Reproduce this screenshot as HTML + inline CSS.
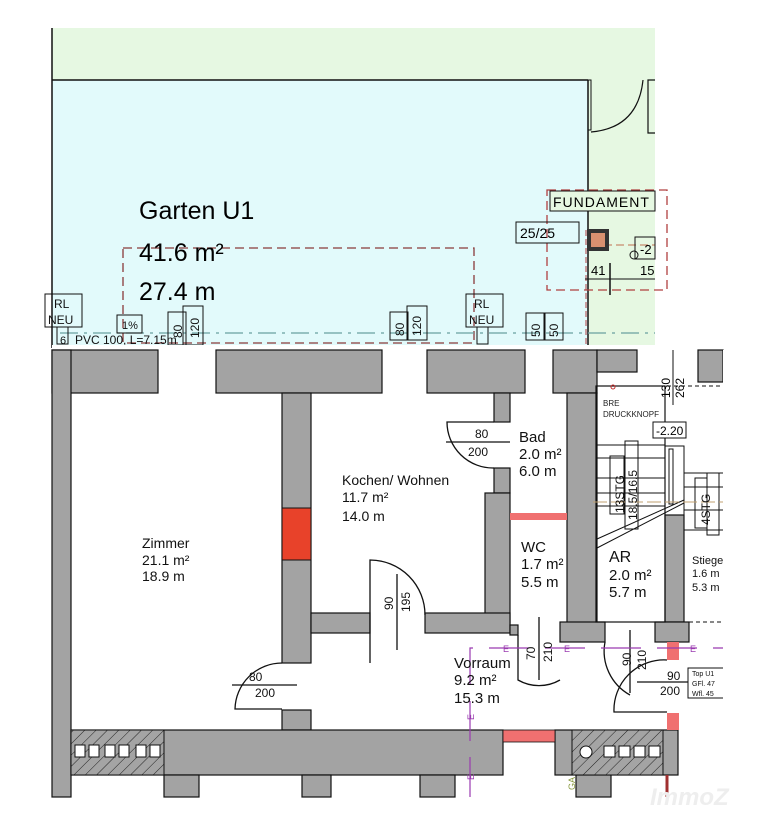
<!DOCTYPE html>
<html><head><meta charset="utf-8"><style>
html,body{margin:0;padding:0;background:#fff;}
svg{display:block;font-family:"Liberation Sans",Arial,sans-serif;}
</style></head><body>
<svg width="758" height="820" viewBox="0 0 758 820" xmlns="http://www.w3.org/2000/svg">
<defs>
<pattern id="hatch" width="8" height="8" patternUnits="userSpaceOnUse" patternTransform="rotate(45)">
<rect width="8" height="8" fill="#a4a4a4"/><line x1="0" y1="0" x2="0" y2="8" stroke="#222" stroke-width="1"/>
</pattern>
</defs>
<rect width="758" height="820" fill="#fff"/>
<!-- top garden area -->
<rect x="52" y="28" width="603" height="320" fill="#e6f8e2"/>
<rect x="52" y="80" width="536" height="268" fill="#e2fafb"/>
<line x1="52" y1="28" x2="52" y2="348" stroke="#111" stroke-width="1.5"/>
<line x1="52" y1="80" x2="588" y2="80" stroke="#111" stroke-width="1.5"/>
<line x1="588" y1="80" x2="588" y2="348" stroke="#111" stroke-width="1.5"/>
<rect x="588" y="80" width="3" height="50" fill="none" stroke="#111" stroke-width="1"/>
<path d="M591 132 Q638 128 643 80" fill="none" stroke="#111" stroke-width="1.2"/>
<path d="M655 80 L648 80 L648 133 L655 133" fill="none" stroke="#111" stroke-width="1.2"/>
<!-- dashed fundament rects -->
<rect x="123" y="248" width="351" height="95" fill="none" stroke="#8a3a3a" stroke-width="1.3" stroke-dasharray="9,5"/>
<rect x="547" y="190" width="120" height="100" fill="none" stroke="#b04040" stroke-width="1.3" stroke-dasharray="9,5"/>
<line x1="586" y1="230" x2="586" y2="345" stroke="#b04040" stroke-width="1" stroke-dasharray="6,3"/>
<line x1="592" y1="245" x2="655" y2="245" stroke="#c07050" stroke-width="1" stroke-dasharray="8,4"/>
<rect x="550" y="191" width="105" height="20" fill="#e6f8e2" stroke="#111" stroke-width="1"/>
<text x="553" y="207" font-size="14" letter-spacing="1">FUNDAMENT</text>
<rect x="516" y="222" width="63" height="21" fill="none" stroke="#111" stroke-width="1"/>
<text x="520" y="238" font-size="14">25/25</text>
<rect x="587" y="229" width="22" height="22" fill="#333"/><rect x="591" y="233" width="14" height="14" fill="#d99070"/>
<rect x="635" y="237" width="20" height="22" fill="none" stroke="#111"/><text x="640" y="254" font-size="13">-2</text>
<circle cx="634" cy="255" r="4" fill="none" stroke="#111"/>
<line x1="585" y1="279" x2="655" y2="279" stroke="#111"/>
<line x1="610" y1="263" x2="610" y2="295" stroke="#111" stroke-width="1.5"/>
<text x="591" y="275" font-size="13">41</text><text x="640" y="275" font-size="13">15</text>
<!-- garden labels -->
<text x="139" y="219" font-size="25">Garten U1</text>
<text x="139" y="261" font-size="25">41.6 m²</text>
<text x="139" y="300" font-size="25">27.4 m</text>
<!-- pipe line -->
<line x1="60" y1="333" x2="655" y2="333" stroke="#6aa0a0" stroke-width="1.2" stroke-dasharray="18,6,3,6"/>
<g font-size="12" fill="#111" stroke="#111" stroke-width="1">
<rect x="45" y="294" width="37" height="33" fill="none"/>
<rect x="57" y="327" width="11" height="17" fill="none"/>
<rect x="117" y="315" width="25" height="18" fill="none"/>
<rect x="168" y="312" width="18" height="33" fill="none"/>
<rect x="183" y="306" width="20" height="39" fill="none"/>
<rect x="390" y="312" width="18" height="28" fill="none"/>
<rect x="407" y="306" width="20" height="34" fill="none"/>
<rect x="466" y="294" width="37" height="33" fill="none"/>
<rect x="477" y="327" width="11" height="17" fill="none"/>
<rect x="526" y="313" width="19" height="27" fill="none"/>
<rect x="544" y="313" width="19" height="27" fill="none"/>
</g>
<g font-size="12" fill="#111">
<text x="54" y="308">RL</text><text x="48" y="324">NEU</text>
<text x="474" y="308">RL</text><text x="469" y="324">NEU</text>
<text x="122" y="329" font-size="11">1%</text>
<text x="75" y="344" font-size="12">PVC 100, L=7.15m</text>
<text x="60" y="344" font-size="11">6</text>
<text transform="translate(182,338) rotate(-90)" font-size="12">80</text>
<text transform="translate(199,338) rotate(-90)" font-size="12">120</text>
<text transform="translate(404,336) rotate(-90)" font-size="12">80</text>
<text transform="translate(421,336) rotate(-90)" font-size="12">120</text>
<text transform="translate(540,337) rotate(-90)" font-size="12">50</text>
<text transform="translate(558,337) rotate(-90)" font-size="12">50</text>
</g>
<!-- gap between images -->
<rect x="52" y="345" width="603" height="5" fill="#fff"/>
<!-- ===== floor plan ===== -->
<g fill="#a3a3a3" stroke="#111" stroke-width="1.2">
<!-- top wall -->
<rect x="52" y="350" width="106" height="43"/>
<rect x="216" y="350" width="166" height="43"/>
<rect x="427" y="350" width="98" height="43"/>
<rect x="553" y="350" width="44" height="43"/>
<!-- left wall -->
<rect x="52" y="350" width="19" height="447"/>
<!-- wall zimmer/kochen -->
<rect x="282" y="393" width="29" height="270"/>
<rect x="282" y="710" width="29" height="20"/>
<!-- kochen right wall -->
<rect x="494" y="393" width="16" height="29"/>
<rect x="494" y="468" width="16" height="25"/>
<rect x="485" y="493" width="25" height="130"/>
<!-- kochen bottom wall -->
<rect x="311" y="613" width="59" height="20"/>
<rect x="425" y="613" width="85" height="20"/>
<!-- bad/wc right wall -->
<rect x="567" y="393" width="30" height="232"/>
<rect x="510" y="625" width="8" height="10"/>
<rect x="560" y="622" width="45" height="20"/>
<!-- stair column -->
<rect x="665" y="515" width="19" height="107"/>
<rect x="655" y="622" width="34" height="20"/>
<!-- right upper walls -->
<rect x="597" y="350" width="40" height="22"/>
<rect x="698" y="350" width="25" height="32"/>
<!-- bottom wall -->
<rect x="71" y="730" width="432" height="45"/>
<rect x="555" y="730" width="123" height="45"/>
<rect x="164" y="775" width="35" height="22"/>
<rect x="302" y="775" width="29" height="22"/>
<rect x="420" y="775" width="35" height="22"/>
<rect x="576" y="775" width="35" height="22"/>
</g>
<!-- red markers -->
<rect x="282" y="508" width="29" height="52" fill="#e8422a" stroke="#111"/>
<rect x="510" y="513" width="57" height="7" fill="#f07070"/>
<rect x="503" y="730" width="52" height="12" fill="#f07070" stroke="#111" stroke-width="0.8"/>
<rect x="667" y="642" width="12" height="18" fill="#f07070"/>
<rect x="667" y="713" width="12" height="17" fill="#f07070"/>
<line x1="667" y1="775" x2="667" y2="797" stroke="#a03030" stroke-width="3"/>
<!-- chimneys -->
<rect x="71" y="730" width="93" height="45" fill="url(#hatch)" stroke="#111"/>
<g fill="#fff" stroke="#111"><rect x="75" y="745" width="10" height="12"/><rect x="89" y="745" width="10" height="12"/><rect x="105" y="745" width="10" height="12"/><rect x="119" y="745" width="10" height="12"/><rect x="136" y="745" width="10" height="12"/><rect x="150" y="745" width="10" height="12"/></g>
<rect x="572" y="730" width="91" height="45" fill="url(#hatch)" stroke="#111"/>
<g fill="#fff" stroke="#111"><circle cx="586" cy="752" r="6"/><rect x="604" y="746" width="11" height="11"/><rect x="619" y="746" width="11" height="11"/><rect x="634" y="746" width="11" height="11"/><rect x="649" y="746" width="11" height="11"/></g>
<!-- AR room outline -->
<rect x="596" y="386" width="69" height="236" fill="none" stroke="#111" stroke-width="1.2"/>
<line x1="597" y1="386" x2="723" y2="386" stroke="#111" stroke-dasharray="4,3"/>
<line x1="605" y1="622" x2="723" y2="622" stroke="#111" stroke-dasharray="4,3"/>
<line x1="673" y1="350" x2="673" y2="405" stroke="#111"/>
<!-- stairs -->
<g stroke="#111" stroke-width="1" fill="none">
<line x1="597" y1="445" x2="665" y2="445"/><line x1="597" y1="458" x2="665" y2="458"/>
<line x1="597" y1="478" x2="665" y2="478"/><line x1="597" y1="493" x2="665" y2="493"/>
<line x1="597" y1="506" x2="665" y2="506"/>
<line x1="684" y1="473" x2="723" y2="473"/><line x1="684" y1="487" x2="723" y2="487"/><line x1="684" y1="510" x2="723" y2="510"/><line x1="684" y1="530" x2="723" y2="530"/>
<polyline points="597,548 684,503"/><polyline points="597,539 684,500"/>
<rect x="665" y="446" width="19" height="69"/><rect x="669" y="449" width="4" height="55"/>
<rect x="610" y="456" width="14" height="58"/><rect x="625" y="441" width="13" height="88"/>
<rect x="695" y="478" width="12" height="50"/><rect x="707" y="473" width="12" height="62"/>
</g>
<line x1="593" y1="502" x2="723" y2="502" stroke="#c0a070" stroke-dasharray="14,4"/>
<g font-size="12" fill="#111">
<text transform="translate(624,513) rotate(-90)">13STG</text>
<text transform="translate(637,520) rotate(-90)">18.5/16.5</text>
<text transform="translate(710,525) rotate(-90)">4STG</text>
</g>
<rect x="653" y="422" width="33" height="16" fill="#fff" stroke="#111"/>
<text x="656" y="435" font-size="12">-2.20</text>
<text x="603" y="406" font-size="8" fill="#222">BRE</text>
<text x="603" y="417" font-size="8" fill="#222">DRUCKKNOPF</text>
<circle cx="613" cy="387" r="2" fill="none" stroke="#c03030"/>
<text transform="translate(670,398) rotate(-90)" font-size="12">130</text>
<text transform="translate(684,398) rotate(-90)" font-size="12">262</text>
<!-- doors -->
<g fill="none" stroke="#111" stroke-width="1.3">
<path d="M494 422 L447 422 A46 46 0 0 0 494 468"/>
<line x1="446" y1="442" x2="510" y2="442"/>
<path d="M370 663 L370 560 A55 55 0 0 1 425 615"/>
<line x1="397" y1="574" x2="397" y2="650"/>
<path d="M282 663 A47 47 0 0 0 235 709 L282 709"/>
<line x1="232" y1="685" x2="297" y2="685"/>
<path d="M518 635 L518 680 A42 42 0 0 0 560 680"/>
<line x1="539" y1="617" x2="539" y2="680"/>
<path d="M605 642 A50 50 0 0 0 630 695"/>
<path d="M667 660 A50 50 0 0 0 614 712 L667 712"/>
<line x1="630" y1="630" x2="630" y2="693"/>
<line x1="637" y1="682" x2="705" y2="682"/>
</g>
<!-- purple E line -->
<g stroke="#9a3ab0" stroke-width="1.2" fill="none" stroke-dasharray="40,16">
<polyline points="470,797 470,648 723,648"/>
</g>
<g font-size="9" fill="#9a3ab0">
<text x="503" y="652">E</text><text x="564" y="652">E</text><text x="690" y="652">E</text>
<text transform="translate(474,720) rotate(-90)">E</text><text transform="translate(474,780) rotate(-90)">E</text>
</g>
<text transform="translate(575,790) rotate(-90)" font-size="9" fill="#8a9a40">GA</text>
<!-- door labels -->
<g font-size="12" fill="#111">
<text x="475" y="438">80</text><text x="468" y="456">200</text>
<text x="249" y="681">80</text><text x="255" y="697">200</text>
<text transform="translate(393,610) rotate(-90)">90</text>
<text transform="translate(410,612) rotate(-90)">195</text>
<text transform="translate(535,660) rotate(-90)">70</text>
<text transform="translate(552,662) rotate(-90)">210</text>
<text transform="translate(631,666) rotate(-90)">90</text>
<text transform="translate(646,670) rotate(-90)">210</text>
<text x="667" y="680">90</text><text x="660" y="695">200</text>
</g>
<rect x="688" y="668" width="40" height="30" fill="#fff" stroke="#111"/>
<g font-size="7" fill="#111"><text x="692" y="676">Top U1</text><text x="692" y="686">GFl.  47</text><text x="692" y="696">Wfl.  45</text></g>
<!-- room labels -->
<g font-size="14" fill="#111">
<text x="142" y="548">Zimmer</text><text x="142" y="565">21.1 m²</text><text x="142" y="581">18.9 m</text>
<text x="342" y="485">Kochen/ Wohnen</text><text x="342" y="502">11.7 m²</text><text x="342" y="521">14.0 m</text>
<text x="519" y="442" font-size="15">Bad</text><text x="519" y="459" font-size="15">2.0 m²</text><text x="519" y="476" font-size="15">6.0 m</text>
<text x="521" y="552" font-size="15">WC</text><text x="521" y="569" font-size="15">1.7 m²</text><text x="521" y="587" font-size="15">5.5 m</text>
<text x="609" y="562" font-size="16">AR</text><text x="609" y="580" font-size="15">2.0 m²</text><text x="609" y="597" font-size="15">5.7 m</text>
<text x="454" y="668" font-size="15">Vorraum</text><text x="454" y="685" font-size="15">9.2 m²</text><text x="454" y="703" font-size="15">15.3 m</text>
<text x="692" y="564" font-size="11">Stiege</text><text x="692" y="577" font-size="11">1.6 m</text><text x="692" y="591" font-size="11">5.3 m</text>
</g>
<rect x="723" y="350" width="35" height="470" fill="#fff"/>
<text x="650" y="805" font-size="24" font-style="italic" font-weight="bold" fill="#eeeeee">ImmoZ</text>
</svg>
</body></html>
